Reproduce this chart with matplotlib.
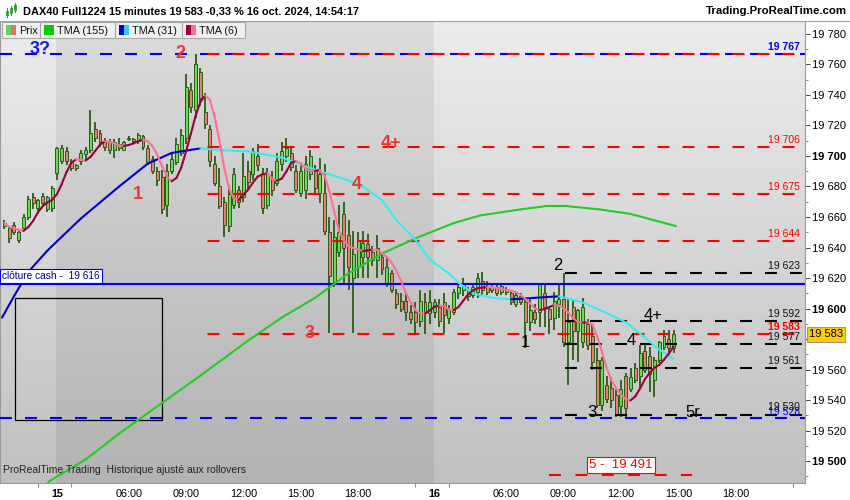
import numpy as np
import pandas as pd
import matplotlib
matplotlib.use("Agg")
import matplotlib.pyplot as plt
import matplotlib.transforms as mtransforms
from matplotlib.patches import Rectangle
from matplotlib.collections import LineCollection
from matplotlib.colors import LinearSegmentedColormap

plt.rcParams['font.family'] = ['Liberation Sans', 'DejaVu Sans']
plt.rcParams['lines.scale_dashes'] = False

# 15 minute bars: bar 12 = 15 oct 02:15, bar 91 = 16 oct 02:15, bar 141 = 16 oct 14:45
bar_open = [19654, 19653, 19655, 19645, 19653, 19660, 19673, 19666, 19674, 19665,
            19666, 19689, 19697, 19703, 19696, 19692, 19697, 19701, 19704, 19718,
            19715, 19709, 19709, 19704, 19708, 19704, 19711, 19710, 19710, 19713,
            19705, 19698, 19690, 19686, 19668, 19690, 19696, 19702, 19712, 19743,
            19730, 19755, 19729, 19718, 19695, 19680, 19670, 19654, 19668, 19678,
            19673, 19690, 19688, 19700, 19688, 19668, 19685, 19682, 19695, 19700,
            19702, 19690, 19676, 19678, 19688, 19690, 19676, 19676, 19650, 19616,
            19637, 19662, 19648, 19620, 19627, 19634, 19642, 19637, 19632, 19634,
            19616, 19623, 19610, 19605, 19605, 19598, 19598, 19592, 19597, 19597,
            19598, 19601, 19604, 19594, 19598, 19610, 19612, 19612, 19609, 19611,
            19618, 19614, 19612, 19614, 19611, 19612, 19610, 19603, 19608, 19604,
            19591, 19598, 19598, 19610, 19600, 19594, 19603, 19606, 19578, 19601,
            19585, 19578, 19590, 19582, 19566, 19537, 19550, 19548, 19543, 19536,
            19556, 19547, 19561, 19556, 19572, 19569, 19553, 19566, 19575, 19580,
            19574]
bar_high = [19658, 19654, 19657, 19652, 19662, 19674, 19676, 19672, 19676, 19674,
            19680, 19706, 19707, 19706, 19698, 19695, 19704, 19706, 19730, 19722,
            19717, 19712, 19711, 19711, 19712, 19710, 19713, 19712, 19715, 19714,
            19707, 19700, 19693, 19691, 19695, 19702, 19712, 19718, 19754, 19748,
            19767, 19758, 19741, 19720, 19700, 19692, 19673, 19680, 19692, 19680,
            19702, 19697, 19705, 19708, 19692, 19692, 19690, 19702, 19709, 19712,
            19706, 19694, 19694, 19700, 19704, 19694, 19699, 19695, 19660, 19658,
            19668, 19670, 19658, 19651, 19650, 19651, 19649, 19641, 19648, 19636,
            19633, 19625, 19613, 19610, 19610, 19602, 19604, 19612, 19610, 19612,
            19606, 19606, 19610, 19602, 19613, 19618, 19620, 19614, 19616, 19623,
            19624, 19618, 19616, 19617, 19617, 19614, 19612, 19611, 19610, 19607,
            19606, 19603, 19617, 19617, 19601, 19611, 19617, 19623, 19606, 19606,
            19600, 19607, 19593, 19589, 19574, 19568, 19556, 19555, 19548, 19553,
            19558, 19561, 19564, 19576, 19576, 19575, 19568, 19579, 19586, 19586,
            19586]
bar_low = [19652, 19643, 19648, 19643, 19652, 19658, 19665, 19664, 19668, 19663,
           19663, 19684, 19695, 19694, 19690, 19690, 19694, 19698, 19702, 19709,
           19706, 19703, 19701, 19699, 19703, 19703, 19710, 19708, 19708, 19704,
           19694, 19688, 19680, 19662, 19660, 19688, 19694, 19700, 19708, 19728,
           19725, 19733, 19718, 19693, 19680, 19665, 19647, 19650, 19665, 19666,
           19670, 19678, 19684, 19690, 19662, 19665, 19674, 19680, 19690, 19696,
           19690, 19676, 19673, 19672, 19684, 19676, 19669, 19648, 19584, 19614,
           19634, 19617, 19612, 19584, 19620, 19620, 19620, 19628, 19620, 19622,
           19614, 19610, 19600, 19598, 19592, 19590, 19584, 19588, 19583, 19590,
           19594, 19588, 19584, 19590, 19596, 19606, 19608, 19605, 19607, 19607,
           19608, 19609, 19610, 19608, 19609, 19609, 19602, 19601, 19602, 19574,
           19585, 19590, 19588, 19588, 19583, 19586, 19594, 19575, 19550, 19566,
           19565, 19574, 19573, 19560, 19535, 19533, 19538, 19535, 19529, 19529,
           19529, 19545, 19551, 19548, 19558, 19545, 19542, 19564, 19573, 19571,
           19571]
bar_close = [19656, 19646, 19650, 19650, 19660, 19672, 19669, 19671, 19669, 19673,
             19679, 19705, 19705, 19697, 19692, 19694, 19702, 19704, 19715, 19712,
             19709, 19706, 19704, 19709, 19705, 19709, 19712, 19711, 19714, 19706,
             19696, 19690, 19684, 19665, 19690, 19698, 19708, 19714, 19745, 19732,
             19760, 19738, 19721, 19697, 19682, 19667, 19655, 19675, 19688, 19670,
             19687, 19683, 19703, 19694, 19666, 19688, 19678, 19697, 19703, 19705,
             19693, 19678, 19690, 19695, 19700, 19679, 19688, 19651, 19621, 19647,
             19650, 19640, 19627, 19636, 19645, 19643, 19634, 19632, 19640, 19626,
             19627, 19612, 19603, 19600, 19598, 19593, 19591, 19605, 19604, 19604,
             19604, 19592, 19596, 19600, 19611, 19614, 19616, 19608, 19614, 19620,
             19612, 19611, 19614, 19610, 19615, 19611, 19604, 19609, 19604, 19591,
             19599, 19593, 19616, 19601, 19593, 19605, 19606, 19578, 19591, 19585,
             19599, 19601, 19576, 19565, 19537, 19566, 19541, 19540, 19530, 19547,
             19535, 19555, 19553, 19571, 19560, 19557, 19566, 19578, 19582, 19574,
             19583]
bar_index = list(range(1, 142))

# TMA(31) and TMA(155) at some bars
tma31_bar = [0.5, 3, 6, 10, 17, 25, 31, 36, 42, 45, 52, 59, 66, 73, 76, 80, 83, 87,
             90, 94, 96, 99, 103, 107, 112, 117, 122, 127, 131, 135, 138, 141]
tma31_val = [19594, 19608, 19624, 19638, 19659, 19680, 19695, 19702, 19705, 19704,
             19703, 19699, 19691, 19684, 19680, 19671, 19658, 19645, 19632, 19623,
             19617, 19610, 19607, 19606, 19607, 19608, 19604, 19597, 19591, 19581,
             19573, 19567]
tma155_bar = [8, 10.5, 18, 25, 33.5, 42, 52, 59, 66, 73, 80, 87, 95, 100.5, 109,
              114, 119, 125.5, 132, 138, 141.5]
tma155_val = [19478, 19487, 19501, 19518, 19537, 19556, 19579, 19594, 19607, 19623,
              19636, 19646, 19656, 19661, 19665, 19667, 19667, 19665, 19662, 19657,
              19654]

red_levels = [19767, 19706, 19675, 19644, 19583]
black_levels = [19623, 19592, 19577, 19561, 19530]
blue_levels = [19767, 19528]
cash_close = 19616
target_level = 19491

box_bars = [3.2, 34.0]
box_prices = [19527, 19607]

red_waves = ['2', '1', '3', '4', '4+']
red_wave_pos = [(37.9, 19767.5), (29.0, 19674.7), (64.9, 19583.6), (74.7, 19681.6), (81.9, 19707.9)]
black_waves = ['2', '1', '4+', '4', '3', '5r']
black_wave_pos = [(116.8, 19627.9), (109.9, 19577.4), (136.7, 19595.6), (132.1, 19579.2),
                  (123.9, 19532.1), (145.0, 19532.1)]

time_ticks = [12, 27, 39, 51, 63, 75, 91, 106, 118, 130, 142, 154]
time_labels = ['15', '06:00', '09:00', '12:00', '15:00', '18:00',
               '16', '06:00', '09:00', '12:00', '15:00', '18:00']
minor_time_ticks = [8, 15, 87, 94, 166]

RED = '#ff0000'
WAVE_RED = '#e53935'
BLUE = '#0000ee'
WICK = '#2e5a17'


def fmt(v):
    return f"{v // 1000} {v % 1000:03d}"


def colored_line(ax, xs, ys, up_color, down_color, lw, z):
    xs = np.asarray(xs, float)
    ys = np.asarray(ys, float)
    pts = np.column_stack([xs, ys]).reshape(-1, 1, 2)
    segs = np.concatenate([pts[:-1], pts[1:]], axis=1)
    cols = [up_color if b >= a else down_color for a, b in zip(ys[:-1], ys[1:])]
    lc = LineCollection(segs, colors=cols, linewidths=lw, zorder=z, capstyle='round')
    ax.add_collection(lc)


fig = plt.figure(figsize=(8.5, 5), dpi=100)
ax = fig.add_axes([0, 17 / 500, 805 / 850, 462 / 500])
x0, x1 = 0.08, 168.5
y0, y1 = 19485.6, 19788.5
ax.set_xlim(x0, x1)
ax.set_ylim(y0, y1)

# background: vertical gradient, darker band for 15 oct
cmap = LinearSegmentedColormap.from_list('bg', ['#c0c0c0', '#ececec'])
grad = np.linspace(0, 1, 256).reshape(-1, 1)
ax.imshow(grad, extent=[x0, x1, y0, y1], origin='lower', aspect='auto', cmap=cmap, zorder=0)
ax.axvspan(11.9, 90.9, color='black', alpha=0.065, lw=0, zorder=0.5)

# candles
o = np.array(bar_open)
h = np.array(bar_high)
l = np.array(bar_low)
c = np.array(bar_close)
idx = np.array(bar_index)
body_col = np.where(c >= o, '#5fe04c', '#e8806c')
ax.vlines(idx, l, h, color=WICK, lw=1.3, zorder=3)
ax.bar(idx, np.maximum(np.abs(c - o), 0.8), bottom=np.minimum(o, c), width=0.62,
       color=body_col, edgecolor=WICK, linewidth=0.7, zorder=4)

# levels
dash = (8.6, 9.4)
for lv in blue_levels:
    ax.plot([x0, x1], [lv, lv], color=BLUE, lw=1.5, dashes=dash, zorder=5)
for lv in red_levels:
    ax.plot([40.9, x1], [lv, lv], color=RED, lw=1.5, ls=(9, dash), zorder=5)
for lv in black_levels:
    ax.plot([118.3, x1], [lv, lv], color='black', lw=1.5, dashes=dash, zorder=5)
ax.plot([114.9, 144.8], [target_level] * 2, color=RED, lw=1.5, dashes=(8.6, 10.4), zorder=5)
ax.axhline(cash_close, color=BLUE, lw=1.5, zorder=5)

ax.add_patch(Rectangle((box_bars[0], box_prices[0]), box_bars[1] - box_bars[0],
                       box_prices[1] - box_prices[0], fill=False, ec='black', lw=0.9, zorder=5))

# moving averages
colored_line(ax, tma155_bar, tma155_val, '#22cc22', '#22cc22', 1.5, 6)
colored_line(ax, tma31_bar, tma31_val, '#0000cc', '#33eeee', 1.5, 6)
tma6 = pd.Series(c, dtype=float).rolling(3, min_periods=1).mean().rolling(4, min_periods=1).mean()
colored_line(ax, idx, tma6.values, '#99003d', '#ff6f94', 1.5, 7)

# level labels on the right
tr = mtransforms.blended_transform_factory(ax.transAxes, ax.transData)
right_labels = [(19767, '19 767', BLUE, 'bold', 4), (19706, '19 706', RED, 'normal', 4),
                (19675, '19 675', RED, 'normal', 4), (19644, '19 644', RED, 'normal', 4),
                (19623, '19 623', '#111111', 'normal', 4), (19592, '19 592', '#111111', 'normal', 4),
                (19583, '19 583', RED, 'bold', 4), (19577, '19 577', '#111111', 'normal', 4),
                (19561, '19 561', '#111111', 'normal', 4), (19528, '19 528', BLUE, 'normal', 3),
                (19530, '19 530', '#111111', 'normal', 5)]
for lv, txt, col, wt, off in right_labels:
    ax.annotate(txt, xy=(0.9938, lv), xycoords=tr, xytext=(0, off), textcoords='offset pixels',
                ha='right', va='baseline', fontsize=7.5, color=col, fontweight=wt, zorder=8)

# wave counts
ax.text(8.4, 19769.5, '3?', color='#1a1adc', fontsize=13, fontweight='bold',
        ha='center', va='center', zorder=8)
for t, (bx, py) in zip(red_waves, red_wave_pos):
    ax.text(bx, py, t, color=WAVE_RED, fontsize=13, fontweight='bold', ha='center', va='center', zorder=8)
for t, (bx, py) in zip(black_waves, black_wave_pos):
    ax.text(bx, py, t, color='black', fontsize=12, ha='center', va='center', zorder=8)

ax.annotate('clôture cash -  19 616', xy=(0.0, cash_close), xycoords=tr, xytext=(2, 3),
            textcoords='offset pixels', ha='left', va='bottom', fontsize=7.3, color='#000088',
            bbox=dict(boxstyle='square,pad=0.2', fc='white', ec=BLUE, lw=0.8), zorder=8)
ax.annotate('5 -  19 491', xy=(130, target_level), xytext=(0, 4), textcoords='offset pixels',
            ha='center', va='bottom', fontsize=9.5, color=RED,
            bbox=dict(boxstyle='square,pad=0.15', fc='white', ec=RED, lw=0.8), zorder=8)
ax.text(0.004, 0.018, 'ProRealTime Trading  Historique ajusté aux rollovers', transform=ax.transAxes,
        fontsize=7.5, color='#222222', ha='left', va='bottom', zorder=8)

# current price badge
ax.annotate('19 583', xy=(1, 19583), xycoords=tr, xytext=(4, 0), textcoords='offset pixels',
            ha='left', va='center', fontsize=8, color='black', annotation_clip=False,
            bbox=dict(boxstyle='square,pad=0.2', fc='#ffcc00', ec='#999999', lw=0.8), zorder=9)

# axes
yt = list(range(19500, 19781, 20))
ax.yaxis.tick_right()
ax.set_yticks(yt)
ax.set_yticklabels([fmt(v) if v != 19580 else '' for v in yt])
ax.set_yticks(list(range(19490, 19790, 10)), minor=True)
ax.tick_params(axis='y', which='major', length=3.5, width=0.7, color='#444444', labelsize=8, pad=1.5)
ax.tick_params(axis='y', which='minor', length=2.5, width=0.7, color='#888888')
for v, lab in zip(yt, ax.get_yticklabels()):
    if v % 100 == 0:
        lab.set_fontweight('bold')

ax.set_xticks(time_ticks)
ax.set_xticklabels(time_labels)
ax.set_xticks(minor_time_ticks, minor=True)
ax.tick_params(axis='x', which='major', length=0, labelsize=7.8, pad=4)
ax.tick_params(axis='x', which='minor', length=3, width=0.7, color='#888888')
for t, lab in zip(time_labels, ax.get_xticklabels()):
    if ':' not in t:
        lab.set_fontweight('bold')

ax.spines['top'].set_visible(False)
for s in ['left', 'right', 'bottom']:
    ax.spines[s].set_color('#9a9a9a')
    ax.spines[s].set_linewidth(0.8)

# header and legend strip in pixel units
ov = fig.add_axes([0, 0, 1, 1])
ov.set_xlim(0, 850)
ov.set_ylim(500, 0)
ov.axis('off')
ov.set_zorder(10)
ov.patch.set_visible(False)
ov.plot([0, 850], [20.5, 20.5], color='#a0a0a0', lw=0.8)
for xi, (yb, yt_, wb, wt_) in zip([7, 11, 15], [(11, 15, 8, 17), (8, 13, 6, 15), (5, 10, 3, 12)]):
    ov.plot([xi, xi], [wb, wt_], color='#339933', lw=0.8)
    ov.add_patch(Rectangle((xi - 1.3, yb), 2.6, yt_ - yb, fc='#66dd44', ec='#339933', lw=0.6))
ov.text(23, 11, 'DAX40 Full1224 15 minutes 19 583 -0,33 % 16 oct. 2024, 14:54:17',
        fontsize=7.9, fontweight='bold', ha='left', va='center')
ov.text(847, 11, 'Trading.ProRealTime.com', fontsize=8.2, fontweight='bold', ha='right', va='center')

legend_items = [(2, 40, 'Prix', '#5fd35f', '#e87060'), (40, 115, 'TMA (155)', '#00cc00', '#00cc00'),
                (115, 182, 'TMA (31)', '#0000cc', '#33ccff'), (182, 245, 'TMA (6)', '#99003d', '#ff6f94')]
for bx0, bx1, name, c1, c2 in legend_items:
    ov.add_patch(Rectangle((bx0, 22), bx1 - bx0, 16, fc='#f0f0f0', ec='#a8a8a8', lw=0.8))
    ov.add_patch(Rectangle((bx0 + 4, 25), 5, 10, fc=c1, ec='none'))
    ov.add_patch(Rectangle((bx0 + 9, 25), 5, 10, fc=c2, ec='none'))
    ov.text(bx0 + 17, 30.5, name, fontsize=7.8, ha='left', va='center', color='#111111')

fig.savefig('out.png', dpi=100, facecolor='white')
